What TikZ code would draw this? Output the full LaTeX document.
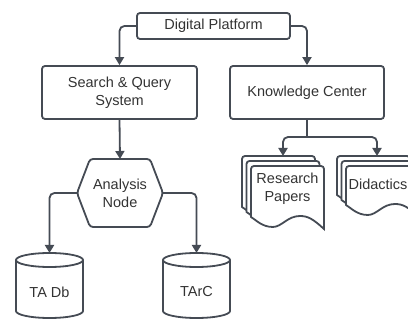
\documentclass[tikz,border=0pt]{standalone}
\usepackage{fontspec}
\setmainfont{Liberation Sans}
\usetikzlibrary{arrows.meta}
\definecolor{ln}{RGB}{69,75,84}
\definecolor{tx}{RGB}{51,51,51}
\newcommand\docpage[4]{%
  \draw[fill=white] (#1,{#2+#4}) [rounded corners=3pt] -- (#1,#2) -- ({#1+#3},#2) [sharp corners] -- ({#1+#3},{#2+#4+12})
    .. controls ({#1+0.85*#3},{#2+#4+2}) and ({#1+0.78*#3},{#2+#4-1}) .. ({#1+0.67*#3},{#2+#4-1})
    .. controls ({#1+0.5*#3},{#2+#4-1}) and ({#1+0.42*#3},{#2+#4+10}) .. ({#1+0.3*#3},{#2+#4+10})
    .. controls ({#1+0.15*#3},{#2+#4+10}) and ({#1+0.07*#3},{#2+#4+3}) .. (#1,{#2+#4}) -- cycle;}
\begin{document}
\begin{tikzpicture}[x=1pt,y=-1pt,
  font=\fontsize{14.5}{18}\selectfont,
  line width=1.8pt, draw=ln, color=ln,
  box/.style={draw=ln, rounded corners=3pt, text=tx, align=center, inner sep=0pt},
  txt/.style={text=tx, align=center, inner sep=0pt},
  arr/.style={-{Triangle[length=8pt,width=9pt]}, rounded corners=5pt}]
\useasboundingbox (0,0) rectangle (408,320);

% boxes
\node[box, minimum width=153pt, minimum height=26pt] (dp) at (213.5,26) {Digital Platform};
\node[box, minimum width=155pt, minimum height=53pt] (sq) at (119.5,92.5) {Search \& Query\\System};
\node[box, minimum width=154pt, minimum height=53pt] (kc) at (307,92.5) {Knowledge Center};

% hexagon
\node[txt, minimum width=86pt, minimum height=68pt, outer sep=0pt] (an) at (120,193) {Analysis\\Node};
\draw[rounded corners=3pt] (an.west) -- ([xshift=13pt]an.north west) -- ([xshift=-13pt]an.north east)
  -- (an.east) -- ([xshift=-13pt]an.south east) -- ([xshift=13pt]an.south west) -- cycle;

% cylinders
\draw (16,260) -- (16,311) .. controls (16,314.9) and (31,318) .. (49.5,318)
  .. controls (68,318) and (83,314.9) .. (83,311) -- (83,260);
\draw (49.5,260) ellipse [x radius=33.5, y radius=7];
\node[txt] (db) at (49.5,292) {TA Db};
\coordinate (dbtop) at (49.5,253);

\draw (163,260) -- (163,311) .. controls (163,314.9) and (178,318) .. (196.5,318)
  .. controls (215,318) and (230,314.9) .. (230,311) -- (230,260);
\draw (196.5,260) ellipse [x radius=33.5, y radius=7];
\node[txt] (tc) at (196.5,292) {TArC};
\coordinate (tctop) at (196.5,253);

% document stacks
\docpage{242}{156}{73}{51}
\docpage{246.5}{161}{73}{51}
\docpage{251}{166}{73}{51}
\node[txt] (rp) at (287.5,189) {Research\\Papers};
\coordinate (rptop) at (283,156);

\docpage{337}{156}{73}{39}
\docpage{341.5}{161}{73}{39}
\docpage{346}{166}{73}{39}
\node[txt] (di) at (378,184) {Didactics};
\coordinate (ditop) at (377,156);

% connectors
\draw[arr] (dp.west) -| (sq.north);
\draw[arr] (dp.east) -| (kc.north);
\draw[arr] (sq.south) -- (an.north);
\draw[arr] (an.west) -| (dbtop);
\draw[arr] (an.east) -| (tctop);
\coordinate (kcj) at (307,137);
\draw (kc.south) -- (kcj);
\draw[arr] (kcj) -| (rptop);
\draw[arr] (kcj) -| (ditop);
\end{tikzpicture}
\end{document}
